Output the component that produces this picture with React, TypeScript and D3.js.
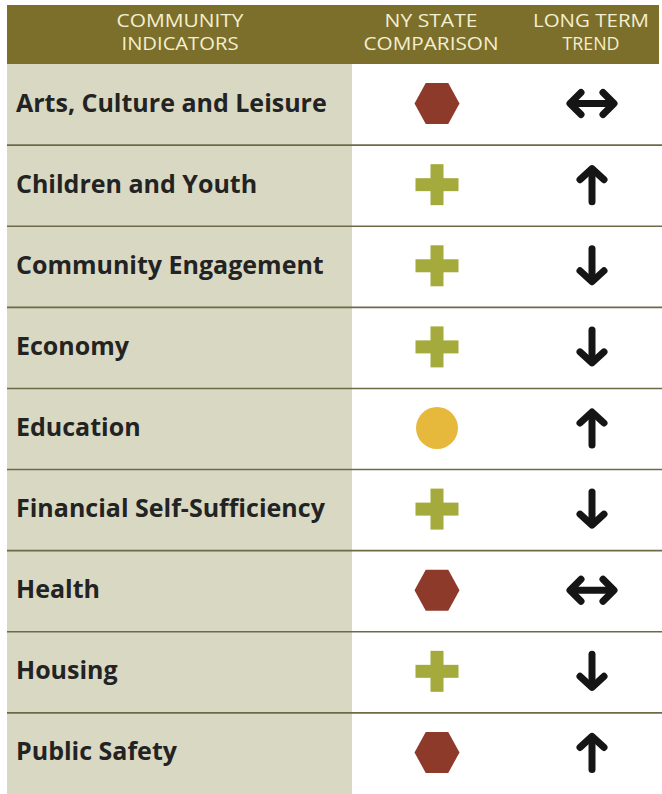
import React, { useEffect, useRef } from "react";
import * as d3 from "d3";

const indicators = [
  "Arts, Culture and Leisure",
  "Children and Youth",
  "Community Engagement",
  "Economy",
  "Education",
  "Financial Self-Sufficiency",
  "Health",
  "Housing",
  "Public Safety",
];
const comparison = ["worse", "better", "better", "better", "same", "better", "worse", "better", "worse"];
const trend = ["steady", "up", "down", "down", "up", "down", "steady", "down", "up"];
const headerLines = [
  ["COMMUNITY", "INDICATORS"],
  ["NY STATE", "COMPARISON"],
  ["LONG TERM", "TREND"],
];
const headerWidths = [
  [127, 117],
  [93, 135],
  [116, 57],
];

const W = 662;
const H = 794;

export default function App() {
  const ref = useRef<SVGSVGElement>(null);
  useEffect(() => {
    const svg = d3.select(ref.current);
    svg.selectAll("*").remove();
    const left = 7, right = 662, headTop = 5, headBot = 64, leftColEnd = 352, headRight = 659;
    const colX = [180, 431, 591];
    const iconX = 437;
    const arrowX = 592;

    svg.append("rect").attr("x", 0).attr("y", 0).attr("width", W).attr("height", H).attr("fill", "#ffffff");
    svg.append("rect").attr("x", left).attr("y", headTop).attr("width", headRight - left).attr("height", headBot - headTop).attr("fill", "#7c6e2b");

    const y = d3.scaleBand<number>().domain(d3.range(indicators.length)).range([headBot, H]).padding(0);

    svg.append("rect").attr("x", left).attr("y", headBot).attr("width", leftColEnd - left).attr("height", H - headBot).attr("fill", "#d9d8c2");

    headerLines.forEach((lines, i) => {
      lines.forEach((t, j) => {
        svg.append("text")
          .attr("x", colX[i]).attr("y", 27 + j * 23)
          .attr("text-anchor", "middle")
          .attr("font-family", "'Open Sans', sans-serif")
          .attr("font-size", 18)
          .attr("fill", "#f3efcf")
          .attr("textLength", headerWidths[i][j])
          .attr("lengthAdjust", "spacingAndGlyphs")
          .text(t);
      });
    });

    d3.range(1, indicators.length).forEach((i) => {
      const yy = y(i)!;
      svg.append("line").attr("x1", left).attr("x2", right).attr("y1", yy).attr("y2", yy)
        .attr("stroke", "#6e6a48").attr("stroke-width", 1.6);
    });

    const rows = svg.selectAll("g.row").data(indicators).join("g").attr("class", "row")
      .attr("transform", (_d, i) => `translate(0,${y(i)! + y.bandwidth() / 2})`);

    rows.append("text")
      .attr("x", 16).attr("y", 7)
      .attr("font-family", "'Open Sans', sans-serif")
      .attr("font-weight", 700)
      .attr("font-size", 25)
      .attr("fill", "#232323")
      .text((d) => d);

    rows.each(function (_d, i) {
      const g = d3.select(this);
      const c = comparison[i];
      const ic = g.append("g").attr("transform", `translate(${iconX},-1)`);
      if (c === "worse") {
        const rx = 22.5, ry = 20.5;
        const pts: [number, number][] = [[-rx, 0], [-rx / 2, -ry], [rx / 2, -ry], [rx, 0], [rx / 2, ry], [-rx / 2, ry]];
        ic.append("path").attr("d", d3.line()(pts) + "Z").attr("fill", "#8e3a2b");
      } else if (c === "better") {
        ic.append("rect").attr("x", -21.5).attr("y", -6.5).attr("width", 43).attr("height", 13).attr("fill", "#a5aa3c");
        ic.append("rect").attr("x", -6.5).attr("y", -20.5).attr("width", 13).attr("height", 41).attr("fill", "#a5aa3c");
      } else {
        ic.append("circle").attr("r", 21).attr("fill", "#e6b83c");
      }
      const t = trend[i];
      const ar = g.append("g").attr("transform", `translate(${arrowX},-1)`)
        .attr("fill", "none").attr("stroke", "#151515").attr("stroke-width", 7)
        .attr("stroke-linejoin", "round").attr("stroke-linecap", "round");
      if (t === "steady") {
        ar.append("path").attr("d", "M-20,0L20,0");
        ar.append("path").attr("d", "M-11,-11L-22,0L-11,11");
        ar.append("path").attr("d", "M11,-11L22,0L11,11");
      } else {
        const s = t === "up" ? 1 : -1;
        ar.append("path").attr("d", `M0,${17 * s}L0,${-14 * s}`);
        ar.append("path").attr("d", `M-12,${-5 * s}L0,${-16 * s}L12,${-5 * s}`);
      }
    });
  }, []);
  return (
    <div style={{ position: "absolute", left: 0, top: 0 }}>
      <svg ref={ref} width={W} height={H} />
    </div>
  );
}
